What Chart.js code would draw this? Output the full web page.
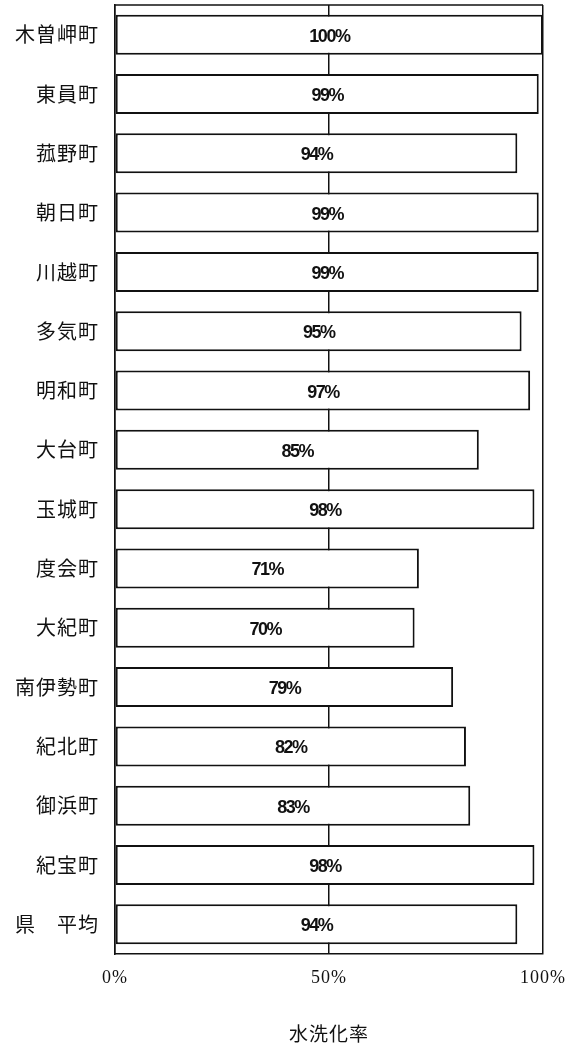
<!DOCTYPE html>
<html lang="ja">
<head>
<meta charset="utf-8">
<title>水洗化率</title>
<script src="https://cdn.jsdelivr.net/npm/chart.js@4/dist/chart.umd.min.js"></script>
<style>
  html, body { margin: 0; padding: 0; background: #fff; }
  #wrap { width: 572px; height: 1048px; }
</style>
</head>
<body>
<div id="wrap"><canvas id="c" width="572" height="1048"></canvas></div>
<script>
// 町ごとの水洗化率（%）
const towns = ['木曽岬町', '東員町', '菰野町', '朝日町', '川越町', '多気町', '明和町', '大台町',
               '玉城町', '度会町', '大紀町', '南伊勢町', '紀北町', '御浜町', '紀宝町', '県　平均'];
const rates = [100, 99, 94, 99, 99, 95, 97, 85, 98, 71, 70, 79, 82, 83, 98, 94];
const xTicks = [0, 50, 100];
const axisTitle = '水洗化率';

const INK = '#111';

// Slightly wider letter spacing for the axis text, reset before the bars are drawn
const axisSpacing = {
  id: 'axisSpacing',
  beforeDraw(chart) { chart.ctx.letterSpacing = '1px'; },
  beforeDatasetsDraw(chart) { chart.ctx.letterSpacing = '0px'; }
};

// Closing line along the top of the plot area
const topLine = {
  id: 'topLine',
  afterDraw(chart) {
    const { ctx, chartArea: a } = chart;
    ctx.save();
    ctx.strokeStyle = INK;
    ctx.lineWidth = 1.5;
    ctx.beginPath();
    ctx.moveTo(a.left, a.top);
    ctx.lineTo(a.right, a.top);
    ctx.stroke();
    ctx.restore();
  }
};

// Percentage written in the middle of each bar
const barLabels = {
  id: 'barLabels',
  afterDatasetsDraw(chart) {
    const { ctx } = chart;
    const meta = chart.getDatasetMeta(0);
    const data = chart.data.datasets[0].data;
    ctx.save();
    ctx.letterSpacing = '-1.5px';
    ctx.font = 'bold 18px "Liberation Sans", Arial, sans-serif';
    ctx.fillStyle = INK;
    ctx.textAlign = 'center';
    ctx.textBaseline = 'middle';
    meta.data.forEach((bar, i) => {
      const cx = (bar.base + bar.x) / 2;
      ctx.fillText(data[i] + '%', cx, bar.y + 2);
    });
    ctx.restore();
  }
};

new Chart(document.getElementById('c'), {
  type: 'bar',
  data: {
    labels: towns,
    datasets: [{
      data: rates,
      backgroundColor: '#ffffff',
      borderColor: INK,
      borderWidth: 2,
      borderSkipped: false,
      barPercentage: 0.675,
      categoryPercentage: 1.0
    }]
  },
  options: {
    indexAxis: 'y',
    responsive: false,
    devicePixelRatio: 1,
    animation: false,
    layout: { padding: { top: 5, right: 29, left: 0, bottom: 0 } },
    plugins: {
      legend: { display: false },
      tooltip: { enabled: false }
    },
    scales: {
      x: {
        min: 0,
        max: 100,
        afterBuildTicks(scale) { scale.ticks = xTicks.map(v => ({ value: v })); },
        afterFit(scale) {
          scale.height = 94;
          scale.paddingLeft = 0;
          scale.paddingRight = 0;
        },
        grid: { color: INK, lineWidth: 1.5, drawTicks: false },
        border: { display: true, color: INK, width: 1.5 },
        ticks: {
          padding: 13,
          color: INK,
          font: { family: '"Liberation Serif", "Times New Roman", serif', size: 18 },
          callback: v => v + '%'
        },
        title: {
          display: true,
          text: axisTitle,
          color: INK,
          font: { family: '"Noto Sans CJK JP", sans-serif', size: 19 },
          padding: { top: 0, bottom: 3 }
        }
      },
      y: {
        afterFit(scale) {
          scale.width = 115;
          scale.paddingTop = 0;
          scale.paddingBottom = 0;
        },
        grid: { display: false, drawTicks: false },
        border: { display: true, color: INK, width: 1.5 },
        ticks: {
          padding: 16,
          color: INK,
          font: { family: '"Noto Sans CJK JP", sans-serif', size: 20 }
        }
      }
    }
  },
  plugins: [axisSpacing, topLine, barLabels]
});
</script>
</body>
</html>
